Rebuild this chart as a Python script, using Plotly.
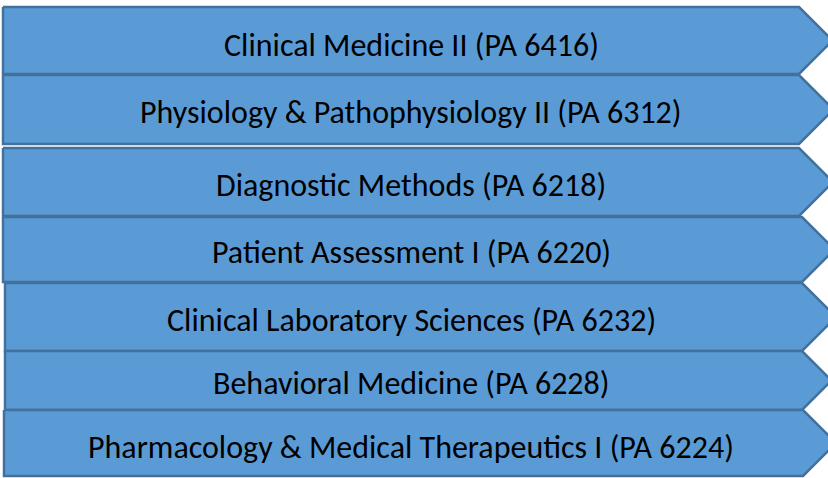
import plotly.graph_objects as go

labels = [
    "Clinical Medicine II (PA 6416)",
    "Physiology & Pathophysiology II (PA 6312)",
    "Diagnostic Methods (PA 6218)",
    "Patient Assessment I (PA 6220)",
    "Clinical Laboratory Sciences (PA 6232)",
    "Behavioral Medicine (PA 6228)",
    "Pharmacology & Medical Therapeutics I (PA 6224)",
]

# layout geometry (pixels)
tops = [7, 75, 148, 217, 283, 351, 410]
bottoms = [74, 144, 216, 282, 351, 410, 476]
lefts = [3, 3, 3, 3, 5, 5, 4]
shoulders = [799, 799, 799, 802, 802, 802, 803]
text_y = [45, 112, 185, 252, 320, 383, 447]
text_x = 411

FILL = "#5B9BD5"
EDGE = "#41719C"

fig = go.Figure()
for lab, t, b, l, s in zip(labels, tops, bottoms, lefts, shoulders):
    h = b - t
    xs = [l, s, s + h / 2, s, l, l]
    ys = [t, t, (t + b) / 2, b, b, t]
    fig.add_trace(go.Scatter(x=xs, y=ys, mode="lines", fill="toself",
                             fillcolor=FILL, line=dict(color=EDGE, width=2.5),
                             hoverinfo="skip", showlegend=False))

for lab, ty in zip(labels, text_y):
    fig.add_annotation(x=text_x, y=ty, xref="x", yref="y", text=lab,
                       showarrow=False, xanchor="center", yanchor="middle",
                       font=dict(family="Carlito, Lato, sans-serif", size=32, color="#000000"))

fig.update_layout(
    width=828, height=478,
    margin=dict(l=0, r=0, t=0, b=0),
    paper_bgcolor="white", plot_bgcolor="white",
    xaxis=dict(range=[0, 828], visible=False, fixedrange=True),
    yaxis=dict(range=[478, 0], visible=False, fixedrange=True),
)
fig.write_html("out.html", config={"displayModeBar": False},
               post_script="document.body.style.margin='0';document.body.style.padding='0';document.body.style.overflow='hidden';")
